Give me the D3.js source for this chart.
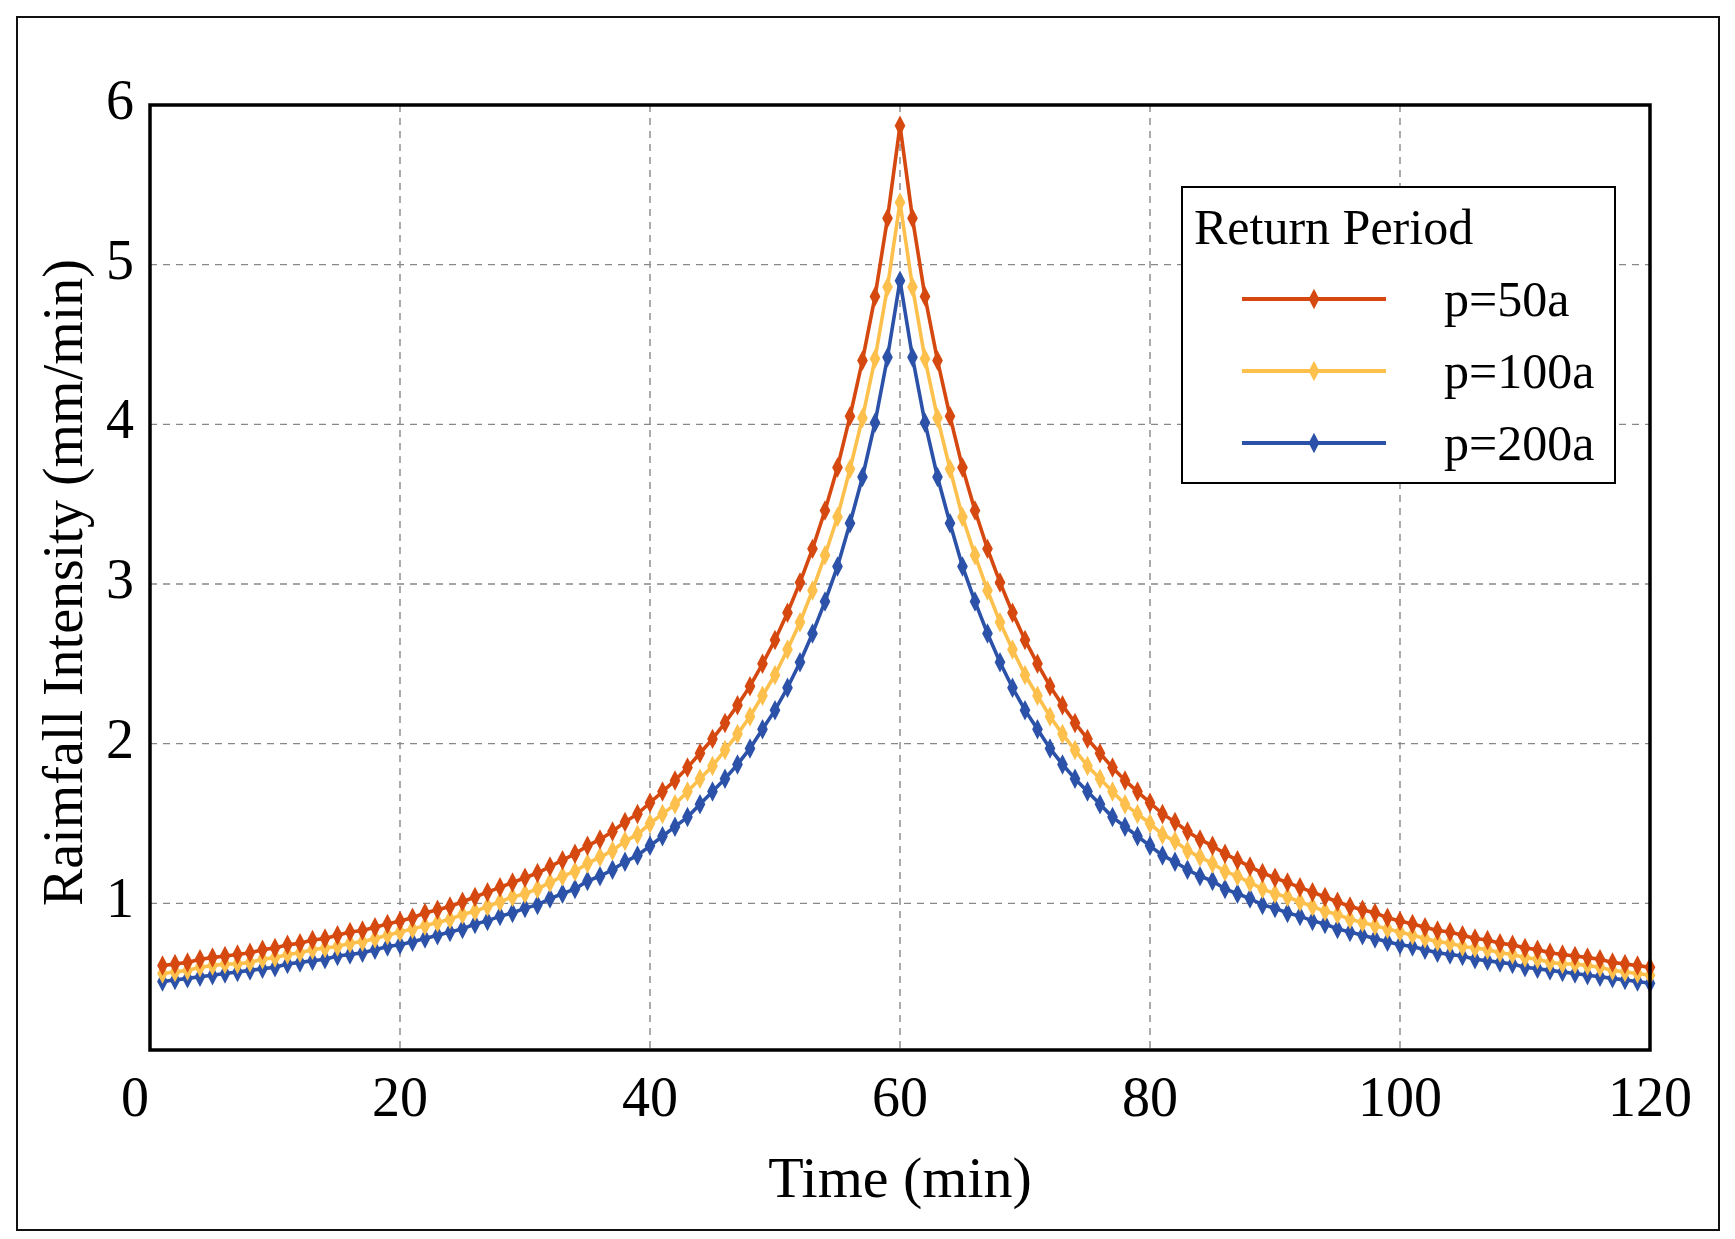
<!DOCTYPE html>
<html><head><meta charset="utf-8">
<script src="https://cdn.jsdelivr.net/npm/d3@7"></script>
<style>body{margin:0;background:#fff}</style></head>
<body><svg id="c" width="1735" height="1239"></svg>
<script>
const seriesNames = ["p=50a","p=100a","p=200a"];
const colors = ["#d5480f","#fdc04c","#2b52a8"];
const xTicks = [0,20,40,60,80,100,120];
const yTicks = [1,2,3,4,5,6];
const p50Rise = [0.61,0.62,0.63,0.65,0.66,0.67,0.68,0.69,0.71,0.72,0.74,0.75,0.77,0.78,0.80,0.82,0.83,0.85,0.87,0.89,0.91,0.94,0.96,0.98,1.01,1.04,1.07,1.10,1.13,1.16,1.19,1.23,1.27,1.31,1.36,1.40,1.45,1.51,1.56,1.63,1.70,1.77,1.85,1.94,2.03,2.13,2.24,2.36,2.50,2.65,2.82,3.01,3.22,3.46,3.73,4.05,4.40,4.80,5.29,5.87];
const p50Fall = [5.29,4.80,4.40,4.05,3.73,3.46,3.22,3.01,2.82,2.65,2.50,2.36,2.24,2.13,2.03,1.94,1.85,1.77,1.70,1.63,1.56,1.51,1.45,1.40,1.36,1.31,1.27,1.23,1.19,1.16,1.13,1.10,1.07,1.04,1.01,0.98,0.96,0.94,0.91,0.89,0.87,0.85,0.83,0.82,0.80,0.78,0.77,0.75,0.74,0.72,0.71,0.69,0.68,0.67,0.66,0.65,0.63,0.62,0.61,0.60];
const p100Rise = [0.56,0.57,0.58,0.60,0.61,0.62,0.62,0.63,0.65,0.66,0.68,0.69,0.71,0.72,0.73,0.75,0.76,0.78,0.80,0.82,0.84,0.86,0.88,0.90,0.93,0.95,0.98,1.01,1.04,1.06,1.09,1.13,1.17,1.20,1.25,1.29,1.33,1.39,1.43,1.50,1.56,1.62,1.70,1.78,1.86,1.96,2.06,2.17,2.30,2.43,2.59,2.76,2.96,3.18,3.42,3.72,4.04,4.41,4.86,5.39];
const p100Fall = [4.86,4.41,4.04,3.72,3.42,3.18,2.96,2.76,2.59,2.43,2.30,2.17,2.06,1.96,1.86,1.78,1.70,1.62,1.56,1.50,1.43,1.39,1.33,1.29,1.25,1.20,1.17,1.13,1.09,1.06,1.04,1.01,0.98,0.95,0.93,0.90,0.88,0.86,0.84,0.82,0.80,0.78,0.76,0.75,0.73,0.72,0.71,0.69,0.68,0.66,0.65,0.63,0.62,0.62,0.61,0.60,0.58,0.57,0.56,0.55];
const p200Rise = [0.51,0.52,0.53,0.54,0.55,0.56,0.57,0.58,0.59,0.60,0.62,0.63,0.64,0.65,0.67,0.68,0.69,0.71,0.73,0.74,0.76,0.78,0.80,0.82,0.84,0.87,0.89,0.92,0.94,0.97,0.99,1.03,1.06,1.09,1.14,1.17,1.21,1.26,1.30,1.36,1.42,1.48,1.54,1.62,1.70,1.78,1.87,1.97,2.09,2.21,2.35,2.51,2.69,2.89,3.11,3.38,3.67,4.01,4.42,4.90];
const p200Fall = [4.42,4.01,3.67,3.38,3.11,2.89,2.69,2.51,2.35,2.21,2.09,1.97,1.87,1.78,1.70,1.62,1.54,1.48,1.42,1.36,1.30,1.26,1.21,1.17,1.14,1.09,1.06,1.03,0.99,0.97,0.94,0.92,0.89,0.87,0.84,0.82,0.80,0.78,0.76,0.74,0.73,0.71,0.69,0.68,0.67,0.65,0.64,0.63,0.62,0.60,0.59,0.58,0.57,0.56,0.55,0.54,0.53,0.52,0.51,0.50];

const series = [p50Rise.concat(p50Fall), p100Rise.concat(p100Fall), p200Rise.concat(p200Fall)];
const svg = d3.select("#c");
const font = "'Liberation Serif','Times New Roman',serif";
const L=150,R=1650,T=105,B=1050;
const x = d3.scaleLinear().domain([0,120]).range([L,R]);
const y = d3.scaleLinear().domain([0,6]).range([B+13,T]);
svg.append("rect").attr("x",17).attr("y",17).attr("width",1702).attr("height",1213).attr("fill","none").attr("stroke","#111").attr("stroke-width",2);
const g = svg.append("g");
xTicks.filter(v=>v>0&&v<120).forEach(v=>g.append("line").attr("x1",x(v)).attr("x2",x(v)).attr("y1",T).attr("y2",B).attr("stroke","#888").attr("stroke-width",1.4).attr("stroke-dasharray","7,6"));
yTicks.filter(v=>v<6).forEach(v=>g.append("line").attr("x1",L).attr("x2",R).attr("y1",y(v)).attr("y2",y(v)).attr("stroke","#888").attr("stroke-width",1.4).attr("stroke-dasharray","7,6"));
const line = d3.line().x((d,i)=>x(i+1)).y(d=>y(d));
series.slice().reverse().forEach((s,ri)=>{
  const k = 2-ri;
  svg.append("path").attr("d",line(s)).attr("fill","none").attr("stroke",colors[k]).attr("stroke-width",3.6);
  svg.append("g").selectAll("path").data(s).join("path")
    .attr("d",d3.symbol(d3.symbolDiamond,110)())
    .attr("transform",(d,i)=>`translate(${x(i+1)},${y(d)}) scale(0.95,1.05)`)
    .attr("fill",colors[k]);
});
svg.append("rect").attr("x",L).attr("y",T).attr("width",R-L).attr("height",B-T).attr("fill","none").attr("stroke","#000").attr("stroke-width",3.5);
svg.append("g").selectAll("text").data(xTicks).join("text")
  .attr("x",d=>d===0?x(d)-15:x(d)).attr("y",1116).attr("text-anchor","middle")
  .attr("font-family",font).attr("font-size",56).text(d=>d);
svg.append("g").selectAll("text").data(yTicks).join("text")
  .attr("x",134).attr("y",d=>y(d)+14).attr("text-anchor","end")
  .attr("font-family",font).attr("font-size",56).text(d=>d);
svg.append("text").attr("x",x(60)).attr("y",1197).attr("text-anchor","middle").attr("font-family",font).attr("font-size",58).text("Time (min)");
svg.append("text").attr("transform",`translate(82,${(T+B)/2+5}) rotate(-90)`).attr("text-anchor","middle").attr("font-family",font).attr("font-size",56).text("Raimfall Intensity (mm/min)");
const lg = svg.append("g");
lg.append("rect").attr("x",1182).attr("y",187).attr("width",433).attr("height",296).attr("fill","#fff").attr("stroke","#000").attr("stroke-width",2);
lg.append("text").attr("x",1194).attr("y",244).attr("font-family",font).attr("font-size",50).text("Return Period");
seriesNames.forEach((n,i)=>{
  const yy = 299 + i*72;
  lg.append("line").attr("x1",1242).attr("x2",1386).attr("y1",yy).attr("y2",yy).attr("stroke",colors[i]).attr("stroke-width",4);
  lg.append("path").attr("d",d3.symbol(d3.symbolDiamond,110)()).attr("transform",`translate(1314,${yy}) scale(0.95,1.05)`).attr("fill",colors[i]);
  lg.append("text").attr("x",1444).attr("y",yy+17).attr("font-family",font).attr("font-size",50).text(n);
});
</script></body></html>
